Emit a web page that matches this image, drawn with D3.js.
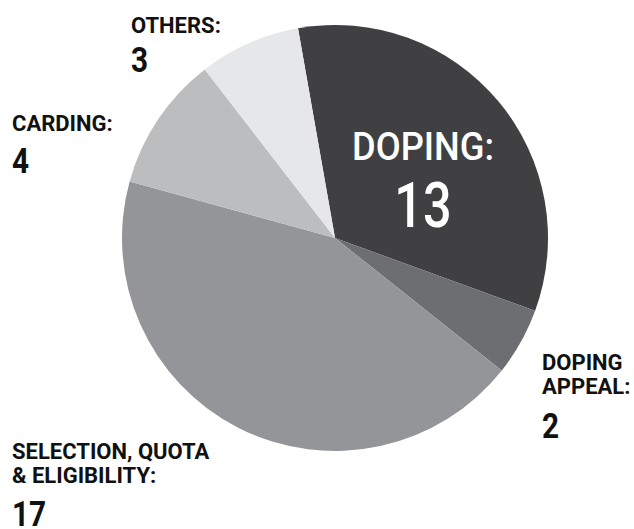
<!DOCTYPE html>
<html><head><meta charset="utf-8">
<script src="https://cdn.jsdelivr.net/npm/d3@7/dist/d3.min.js"></script>
<style>
html,body{margin:0;padding:0;background:#fff;}
svg{display:block;}
text{font-family:Roboto,"Liberation Sans",sans-serif;}
</style></head>
<body>
<svg id="c" width="634" height="529"></svg>
<script>
const categories = ["DOPING", "DOPING APPEAL", "SELECTION, QUOTA & ELIGIBILITY", "CARDING", "OTHERS"];
const values = [13, 2, 17, 4, 3];
const labelLines = [["DOPING:"], ["DOPING", "APPEAL:"], ["SELECTION, QUOTA", "& ELIGIBILITY:"], ["CARDING:"], ["OTHERS:"]];
const colors = ["#404042", "#6d6e71", "#939598", "#bcbdbf", "#e6e7e8"];

const svg = d3.select("#c");
const cx = 335, cy = 238, R = 213;
const start = -10 * Math.PI / 180;
const pie = d3.pie().sort(null).startAngle(start).endAngle(start + 2 * Math.PI);
const arcs = pie(values);
const arc = d3.arc().innerRadius(0).outerRadius(R);

const g = svg.append("g").attr("transform", `translate(${cx},${cy})`);
g.selectAll("path").data(arcs).enter().append("path")
  .attr("d", arc).attr("fill", (d, i) => colors[i]);

const ext = [
  {i: 4, x: 131, y: 33, ng: 39},
  {i: 3, x: 12, y: 131, ng: 42},
  {i: 1, x: 542, y: 370, ng: 44},
  {i: 2, x: 12, y: 459, ng: 43}
];
ext.forEach(e => {
  const t = svg.append("g").attr("transform", `translate(${e.x},${e.y})`);
  const lines = labelLines[e.i];
  lines.forEach((l, k) => {
    t.append("text").attr("x", 0).attr("y", k * 24)
      .attr("font-size", 22).attr("font-weight", 700).attr("fill", "#111")
      .text(l);
  });
  t.append("text").attr("x", 0).attr("y", (lines.length - 1) * 24 + e.ng)
    .attr("transform", "scale(0.85,1)")
    .attr("font-size", 35).attr("font-weight", 700).attr("fill", "#111")
    .text(values[e.i]);
});

const dg = svg.append("g").attr("transform", "translate(423,0)");
dg.append("text").attr("x", 0).attr("y", 160).attr("text-anchor", "middle")
  .attr("transform", "scale(0.93,1)")
  .attr("font-size", 39).attr("font-weight", 500).attr("fill", "#fff")
  .text(labelLines[0][0]);
dg.append("text").attr("x", 0).attr("y", 227).attr("text-anchor", "middle")
  .attr("transform", "scale(0.8,1)")
  .attr("font-size", 63).attr("font-weight", 500).attr("fill", "#fff")
  .text(values[0]);
</script>
</body></html>
